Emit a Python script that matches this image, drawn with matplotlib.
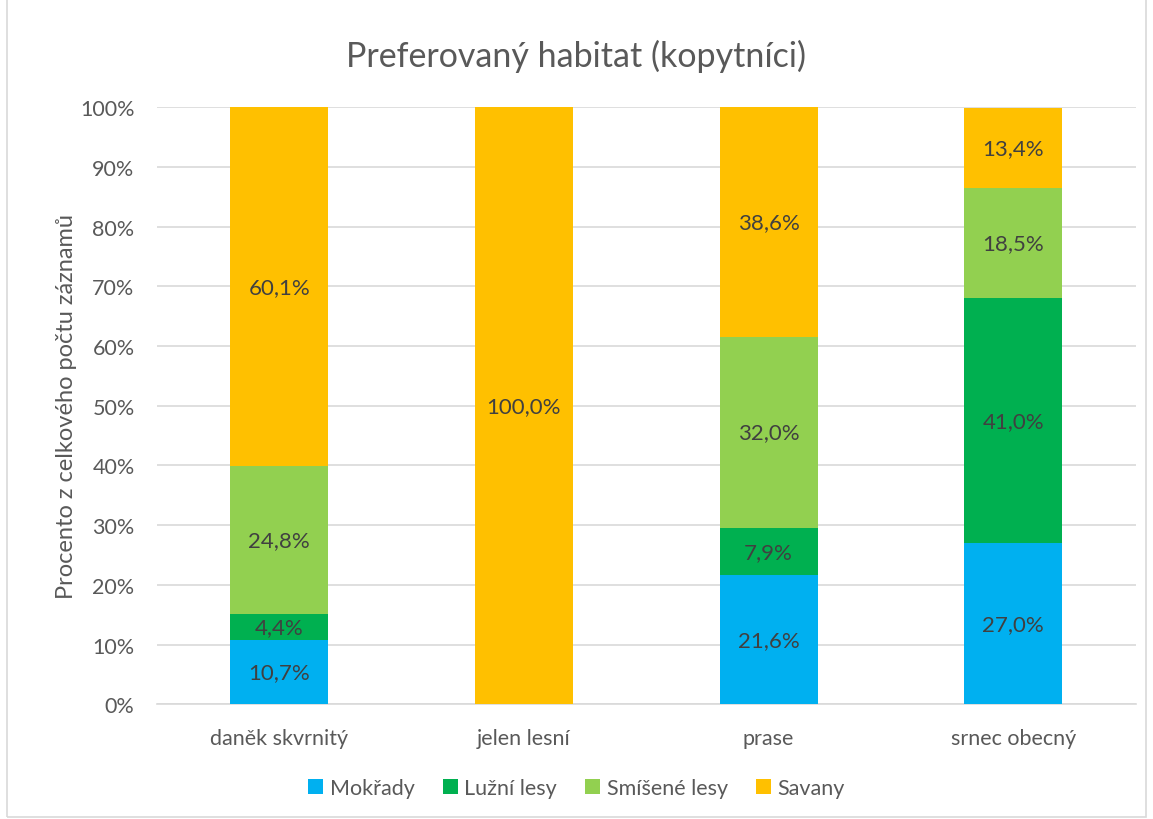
import numpy as np
import matplotlib.pyplot as plt
from matplotlib.patches import Rectangle

plt.rcParams["font.family"] = ["Lato", "DejaVu Sans"]

species = ["daněk skvrnitý", "jelen lesní", "prase", "srnec obecný"]
habitats = ["Mokřady", "Lužní lesy", "Smíšené lesy", "Savany"]
colors = ["#00B0F0", "#00B050", "#92D050", "#FFC000"]

mokrady = [10.7, 0.0, 21.6, 27.0]
luzni_lesy = [4.4, 0.0, 7.9, 41.0]
smisene_lesy = [24.8, 0.0, 32.0, 18.5]
savany = [60.1, 100.0, 38.6, 13.4]

series = [mokrady, luzni_lesy, smisene_lesy, savany]

fig = plt.figure(figsize=(11.53, 8.2), dpi=100)
ax = fig.add_axes([0.136, 0.140, 0.849, 0.728])

# light frame around the whole chart
fig.patches.append(Rectangle((0.006, 0.003), 0.988, 1.2, transform=fig.transFigure,
                             fill=False, edgecolor="#D9D9D9", linewidth=1.2))

x = np.arange(len(species))
bottom = np.zeros(len(species))
for name, vals, col in zip(habitats, series, colors):
    vals = np.array(vals)
    ax.bar(x, vals / 100, 0.4, bottom=bottom / 100, color=col, label=name, zorder=3)
    for xi, v, b in zip(x, vals, bottom):
        if v > 0:
            ax.text(xi, (b + v / 2) / 100, f"{v:.1f}%".replace(".", ","),
                    ha="center", va="center", fontsize=16, color="#404040", zorder=4)
    bottom += vals

ax.set_xlim(-0.5, 3.5)
ax.set_ylim(0, 1.0)
ax.set_yticks(np.arange(0, 1.01, 0.1))
ax.set_yticklabels([f"{int(round(t * 100))}%" for t in np.arange(0, 1.01, 0.1)])
ax.set_xticks(x)
ax.set_xticklabels(species)
ax.tick_params(axis="both", length=0, labelsize=15.5, colors="#595959")
ax.tick_params(axis="x", pad=17)
ax.tick_params(axis="y", pad=16)
ax.grid(axis="y", color="#D9D9D9", linewidth=1.2, zorder=0)
for s in ["top", "right", "left"]:
    ax.spines[s].set_visible(False)
ax.spines["bottom"].set_color("#D9D9D9")
ax.spines["bottom"].set_linewidth(1.2)

ax.set_ylabel("Procento z celkového počtu záznamů", fontsize=17, color="#595959", labelpad=2)
fig.text(0.5, 0.931, "Preferovaný habitat (kopytníci)", ha="center", va="center",
         fontsize=24.5, color="#595959")

fig.legend(loc="center", bbox_to_anchor=(0.5, 0.038), ncol=4, frameon=False,
           fontsize=15.5, labelcolor="#595959", handlelength=0.7, handleheight=0.7,
           handletextpad=0.3, columnspacing=1.3)

fig.savefig("out.png", dpi=100)
